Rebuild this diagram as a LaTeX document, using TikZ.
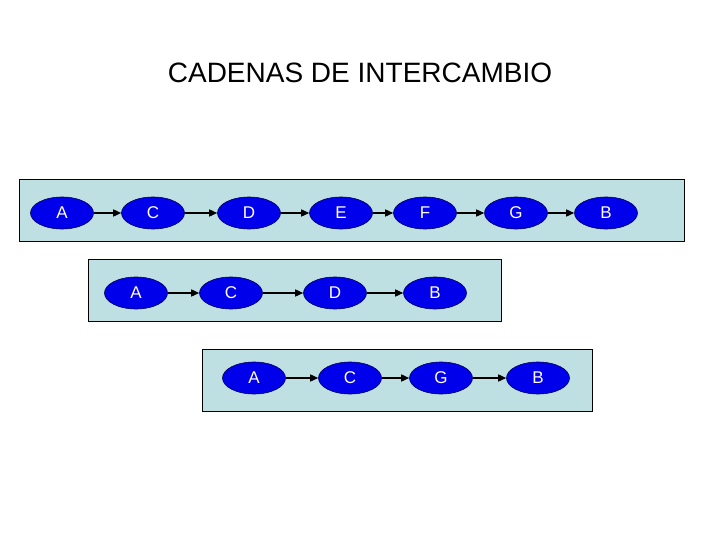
\documentclass[tikz,border=0pt]{standalone}
\usepackage{fontspec}
\setmainfont{Liberation Sans}
\usetikzlibrary{arrows.meta,shapes.geometric}
\definecolor{boxfill}{RGB}{190,224,226}
\definecolor{ellfill}{RGB}{0,0,235}
\definecolor{ellline}{RGB}{0,0,90}
\tikzset{
  chainbox/.style={draw=black, line width=0.8pt, fill=boxfill},
  person/.style={ellipse, draw=ellline, line width=0.6pt, fill=ellfill, text=white,
    minimum width=63pt, minimum height=32pt, inner sep=0pt, font=\fontsize{17}{19}\selectfont},
  link/.style={-{Triangle[length=8pt,width=7pt]}, line width=1.5pt, black}
}
\begin{document}
\begin{tikzpicture}[x=1pt,y=-1pt]
\useasboundingbox (0,0) rectangle (720,540);
\node[font=\fontsize{28}{32}\selectfont] (title) at (360,73) {CADENAS DE INTERCAMBIO};
% row 1
\draw[chainbox] (19,179) rectangle (684,241);
\node[person] (a1) at (62,213) {A};
\node[person] (c1) at (153,213) {C};
\node[person] (d1) at (249,213) {D};
\node[person] (e1) at (341,213) {E};
\node[person] (f1) at (425,213) {F};
\node[person] (g1) at (516,213) {G};
\node[person] (b1) at (606,213) {B};
\foreach \u/\v in {a1/c1,c1/d1,d1/e1,e1/f1,f1/g1,g1/b1} \draw[link] (\u) -- (\v);
% row 2
\draw[chainbox] (88,259) rectangle (501,321);
\node[person] (a2) at (136,293) {A};
\node[person] (c2) at (231,293) {C};
\node[person] (d2) at (335,293) {D};
\node[person] (b2) at (435,293) {B};
\foreach \u/\v in {a2/c2,c2/d2,d2/b2} \draw[link] (\u) -- (\v);
% row 3
\draw[chainbox] (202,349) rectangle (592,411);
\node[person] (a3) at (254,378) {A};
\node[person] (c3) at (350,378) {C};
\node[person] (g3) at (441,378) {G};
\node[person] (b3) at (538,378) {B};
\foreach \u/\v in {a3/c3,c3/g3,g3/b3} \draw[link] (\u) -- (\v);
\end{tikzpicture}
\end{document}
